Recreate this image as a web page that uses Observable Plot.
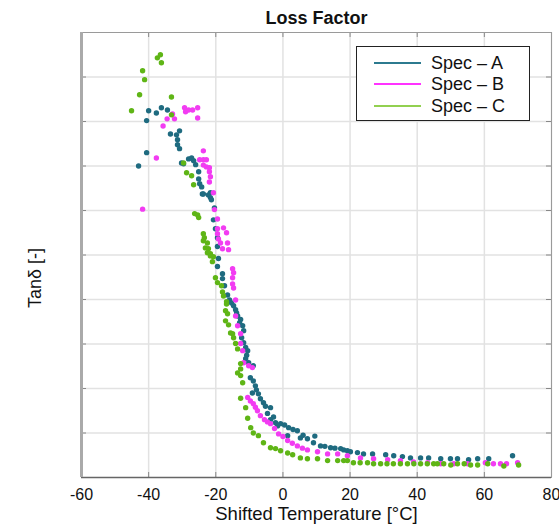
<!DOCTYPE html>
<html><head><meta charset="utf-8">
<script src="https://cdn.jsdelivr.net/npm/d3@7"></script>
<script src="https://cdn.jsdelivr.net/npm/@observablehq/plot@0.6"></script>
<style>
body{margin:0;background:#fff;font-family:"Liberation Sans",Arial,sans-serif;}
#wrap{position:relative;width:559px;height:524px;}
#legend{position:absolute;left:356px;top:46px;width:172px;height:73px;border:1.5px solid #222;background:#fff;}
.row{position:absolute;left:0;height:22px;display:flex;align-items:center;}
.sw{width:47px;height:2.5px;margin-left:16.5px;margin-right:10.5px;}
.lab{font-size:18px;color:#111;white-space:nowrap;}
</style></head><body><div id="wrap"></div>
<script>
const seriesNames = ["Spec – A", "Spec – B", "Spec – C"];
const seriesColors = ["#1f6b80", "#f23cf2", "#5fb516"];
const legendColors = ["#2c7a8f", "#ff33ff", "#92d050"];
const xTicks = [-60, -40, -20, 0, 20, 40, 60, 80];
const yTicks = [0.1, 0.2, 0.3, 0.4, 0.5, 0.6, 0.7, 0.8, 0.9];

const specA = [[-43.0,0.700],[-40.6,0.802],[-40.6,0.730],[-40.0,0.824],[-37.7,0.819],[-36.2,0.831],[-34.4,0.826],[-33.5,0.772],[-31.7,0.770],[-30.8,0.779],[-31.4,0.759],[-31.4,0.748],[-30.8,0.739],[-30.2,0.707],[-29.6,0.705],[-28.1,0.716],[-27.2,0.718],[-26.6,0.712],[-26.0,0.703],[-25.1,0.687],[-25.1,0.671],[-24.8,0.660],[-24.2,0.653],[-24.0,0.637],[-23.7,0.637],[-22.2,0.635],[-21.6,0.640],[-21.6,0.629],[-21.3,0.624],[-20.4,0.606],[-20.7,0.579],[-20.1,0.559],[-19.5,0.539],[-19.5,0.519],[-19.2,0.492],[-19.5,0.474],[-18.0,0.458],[-18.0,0.447],[-17.4,0.431],[-16.5,0.410],[-15.9,0.399],[-15.3,0.392],[-14.7,0.386],[-14.1,0.377],[-13.8,0.370],[-13.5,0.363],[-12.9,0.348],[-12.6,0.355],[-12.0,0.341],[-11.7,0.330],[-12.3,0.314],[-11.7,0.303],[-11.1,0.292],[-10.5,0.285],[-10.8,0.275],[-11.1,0.267],[-10.2,0.258],[-8.8,0.251],[-9.7,0.224],[-8.8,0.217],[-8.2,0.206],[-7.9,0.197],[-9.1,0.190],[-7.3,0.188],[-6.7,0.177],[-5.8,0.168],[-5.2,0.160],[-3.7,0.157],[-4.6,0.144],[-2.8,0.136],[-3.7,0.130],[-2.2,0.123],[-1.6,0.116],[-0.7,0.121],[0.5,0.118],[1.7,0.112],[3.0,0.108],[4.3,0.105],[1.4,0.094],[5.2,0.089],[6.0,0.095],[7.3,0.087],[9.5,0.093],[9.1,0.078],[11.2,0.071],[12.5,0.070],[14.2,0.067],[15.5,0.066],[17.2,0.065],[18.1,0.062],[19.2,0.060],[20.1,0.058],[22.2,0.056],[24.0,0.053],[26.7,0.053],[30.6,0.051],[33.0,0.049],[35.6,0.047],[38.0,0.044],[41.0,0.044],[43.4,0.044],[47.0,0.042],[49.9,0.042],[52.0,0.042],[55.3,0.040],[58.0,0.042],[61.3,0.042],[68.4,0.049]];

const specB = [[-41.8,0.603],[-37.7,0.718],[-35.7,0.790],[-34.5,0.806],[-32.9,0.817],[-32.3,0.806],[-29.3,0.831],[-29.0,0.822],[-28.1,0.826],[-26.9,0.826],[-25.4,0.831],[-25.4,0.808],[-23.7,0.734],[-24.8,0.714],[-23.7,0.714],[-22.8,0.714],[-23.7,0.702],[-22.8,0.698],[-21.9,0.696],[-21.9,0.687],[-21.6,0.676],[-21.9,0.664],[-20.7,0.640],[-20.4,0.602],[-19.5,0.581],[-19.5,0.559],[-17.7,0.561],[-16.8,0.550],[-19.5,0.548],[-19.2,0.536],[-18.6,0.527],[-16.5,0.527],[-16.2,0.512],[-18.0,0.514],[-15.0,0.469],[-14.7,0.460],[-15.0,0.449],[-15.0,0.435],[-14.7,0.426],[-14.1,0.399],[-14.1,0.363],[-13.5,0.341],[-12.6,0.323],[-12.6,0.301],[-12.0,0.285],[-11.7,0.258],[-10.2,0.251],[-9.1,0.247],[-10.5,0.180],[-9.7,0.172],[-8.8,0.166],[-8.2,0.158],[-7.6,0.150],[-6.7,0.139],[-5.5,0.130],[-4.6,0.125],[-3.7,0.121],[-2.5,0.110],[-1.3,0.098],[0.0,0.092],[1.4,0.083],[2.8,0.077],[4.3,0.071],[5.8,0.066],[7.3,0.062],[10.3,0.058],[13.3,0.053],[16.3,0.053],[19.2,0.049],[23.1,0.044],[27.0,0.042],[31.2,0.040],[35.0,0.038],[38.9,0.035],[43.1,0.033],[47.0,0.031],[50.9,0.031],[55.0,0.031],[60.3,0.033],[62.7,0.031],[64.8,0.031],[66.6,0.031],[69.9,0.033]];

const specC = [[-45.1,0.824],[-42.7,0.860],[-41.8,0.914],[-41.2,0.894],[-37.4,0.943],[-36.5,0.950],[-36.2,0.932],[-33.2,0.855],[-33.2,0.815],[-29.6,0.707],[-28.7,0.685],[-27.2,0.678],[-26.6,0.658],[-26.3,0.593],[-25.4,0.590],[-25.1,0.584],[-23.7,0.548],[-23.4,0.539],[-23.7,0.532],[-22.5,0.527],[-23.1,0.516],[-22.2,0.514],[-21.6,0.503],[-20.7,0.496],[-22.5,0.505],[-21.6,0.498],[-21.0,0.485],[-20.1,0.449],[-19.5,0.438],[-18.3,0.431],[-18.0,0.417],[-17.7,0.408],[-16.8,0.395],[-16.8,0.390],[-17.1,0.375],[-16.5,0.368],[-17.1,0.352],[-16.2,0.343],[-15.6,0.325],[-15.0,0.323],[-14.7,0.314],[-14.1,0.301],[-13.5,0.289],[-12.6,0.256],[-12.6,0.244],[-13.5,0.235],[-12.6,0.229],[-12.0,0.213],[-12.6,0.178],[-11.1,0.157],[-10.5,0.133],[-9.6,0.112],[-8.8,0.100],[-7.3,0.094],[-5.8,0.078],[-3.7,0.067],[-2.2,0.065],[-0.7,0.060],[1.4,0.055],[2.9,0.051],[5.2,0.044],[7.3,0.042],[10.3,0.042],[13.3,0.038],[16.3,0.038],[18.1,0.038],[19.2,0.038],[21.0,0.033],[23.0,0.033],[25.2,0.033],[27.0,0.031],[29.1,0.031],[31.0,0.031],[32.9,0.031],[35.0,0.031],[37.1,0.031],[39.0,0.031],[41.0,0.031],[43.0,0.031],[44.9,0.031],[46.0,0.031],[47.9,0.031],[50.0,0.028],[52.0,0.031],[54.0,0.031],[55.9,0.028],[58.0,0.028],[61.0,0.031],[65.8,0.026],[70.2,0.028]];

const rows = [];
[specA, specB, specC].forEach((s, i) => s.forEach(([t, v]) => rows.push({series: seriesNames[i], t, v})));

const chart = Plot.plot({
  width: 559, height: 524,
  marginLeft: 81, marginRight: 8, marginTop: 32, marginBottom: 47,
  style: {fontFamily: "Liberation Sans, Arial, sans-serif", background: "#fff", color: "#111"},
  x: {domain: [-60, 80]},
  y: {domain: [0, 1]},
  color: {domain: seriesNames, range: seriesColors},
  marks: [
    Plot.gridX(xTicks, {stroke: "#e2e2e2", strokeOpacity: 1, strokeWidth: 1.5}),
    Plot.gridY(yTicks, {stroke: "#e2e2e2", strokeOpacity: 1, strokeWidth: 1.5}),
    Plot.tickX(xTicks, {x: d => d, insetTop: 440, stroke: "#888"}),
    Plot.tickX(xTicks, {x: d => d, insetBottom: 440, stroke: "#888"}),
    Plot.tickY(yTicks, {y: d => d, insetRight: 465, stroke: "#888"}),
    Plot.tickY(yTicks, {y: d => d, insetLeft: 465, stroke: "#888"}),
    Plot.dot(rows, {x: "t", y: "v", fill: "series", r: 2.7}),
    Plot.frame({stroke: "#9a9a9a"}),
    Plot.ruleY([0], {stroke: "#666", strokeWidth: 1.5}),
    Plot.ruleX([-60], {stroke: "#aaa", strokeWidth: 3}),
    Plot.axisX(xTicks, {tickSize: 0, tickPadding: 11, fontSize: 16, fill: "#111", label: null, tickFormat: d => String(d)}),
    Plot.axisY(yTicks, {tickSize: 0, tickFormat: () => "", label: null}),
    Plot.text(["Loss Factor"], {text: d => d, frameAnchor: "top", lineAnchor: "middle", textAnchor: "middle", dy: -14, fontSize: 18, fontWeight: "bold", fill: "#111"}),
    Plot.text(["Shifted Temperature [°C]"], {text: d => d, frameAnchor: "bottom", lineAnchor: "middle", textAnchor: "middle", dy: 37, fontSize: 18.5, fill: "#111"}),
    Plot.text(["Tanδ [-]"], {text: d => d, frameAnchor: "left", lineAnchor: "middle", textAnchor: "middle", dx: -46, dy: 23, rotate: -90, fontSize: 18, fill: "#111"})
  ]
});
const wrap = document.getElementById("wrap");
wrap.appendChild(chart);

const legend = document.createElement("div");
legend.id = "legend";
const centers = [16, 37, 59];
seriesNames.forEach((n, i) => {
  const r = document.createElement("div");
  r.className = "row";
  r.style.top = (centers[i] - 11) + "px";
  const sw = document.createElement("div");
  sw.className = "sw";
  sw.style.background = legendColors[i];
  const lab = document.createElement("span");
  lab.className = "lab";
  lab.textContent = n;
  r.appendChild(sw); r.appendChild(lab);
  legend.appendChild(r);
});
wrap.appendChild(legend);
</script>
</body></html>
